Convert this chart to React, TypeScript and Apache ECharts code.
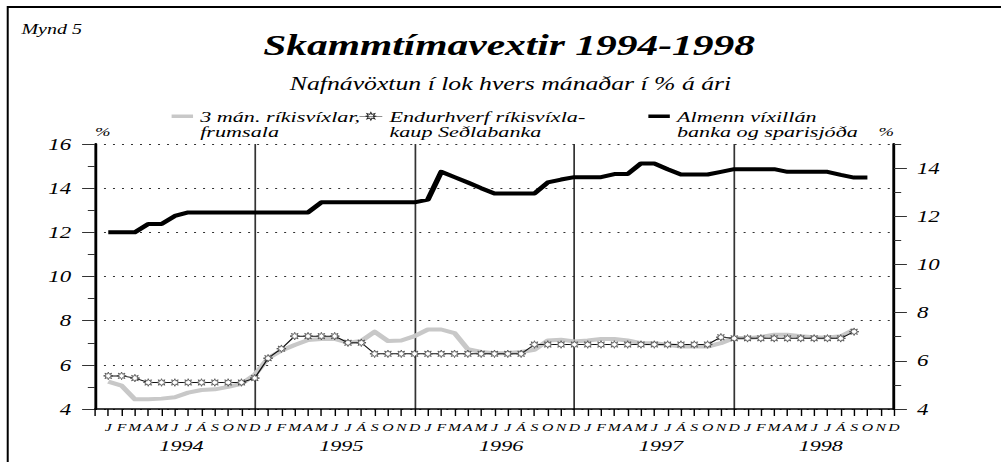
import React, { useEffect, useRef } from 'react';
import * as echarts from 'echarts';

const YEARS = ['1994', '1995', '1996', '1997', '1998'];
const MONTHS = ['J', 'F', 'M', 'A', 'M', 'J', 'J', 'Á', 'S', 'O', 'N', 'D'];

// 3 mán. ríkisvíxlar, frumsala (Jan 1994 - Sep 1998)
const TBILL = [
  5.24, 5.06, 4.44, 4.44, 4.47, 4.53, 4.74, 4.86, 4.89, 5.0, 5.14, 5.55,
  6.3, 6.65, 6.9, 7.12, 7.17, 7.17, 7.0, 7.08, 7.5, 7.08, 7.1, 7.3,
  7.6, 7.6, 7.44, 6.71, 6.58, 6.53, 6.53, 6.58, 6.68, 7.1, 7.14, 7.06,
  7.1, 7.17, 7.17, 7.1, 6.98, 6.98, 6.91, 6.83, 6.83, 6.83, 6.98, 7.21,
  7.21, 7.26, 7.36, 7.36, 7.29, 7.25, 7.24, 7.29, 7.6,
];

// Endurhverf ríkisvíxlakaup Seðlabanka (Jan 1994 - Sep 1998)
const REPO = [
  5.5, 5.5, 5.4, 5.2, 5.2, 5.2, 5.2, 5.2, 5.2, 5.2, 5.2, 5.4,
  6.3, 6.73, 7.3, 7.3, 7.3, 7.3, 7.0, 7.0, 6.5, 6.5, 6.5, 6.5,
  6.5, 6.5, 6.5, 6.5, 6.5, 6.5, 6.5, 6.5, 6.92, 6.92, 6.92, 6.92,
  6.92, 6.92, 6.92, 6.92, 6.92, 6.92, 6.92, 6.92, 6.92, 6.92, 7.25, 7.2,
  7.2, 7.2, 7.2, 7.2, 7.2, 7.2, 7.2, 7.2, 7.5,
];

// Almenn víxillán banka og sparisjóða (Jan 1994 - Oct 1998)
const LOANS = [
  12.0, 12.0, 12.0, 12.38, 12.38, 12.74, 12.9, 12.9, 12.9, 12.9, 12.9, 12.9,
  12.9, 12.9, 12.9, 12.9, 13.36, 13.36, 13.36, 13.36, 13.36, 13.36, 13.36, 13.36,
  13.48, 14.74, 14.5, 14.26, 14.0, 13.76, 13.76, 13.76, 13.76, 14.26, 14.39, 14.5,
  14.5, 14.5, 14.64, 14.64, 15.12, 15.12, 14.86, 14.62, 14.62, 14.62, 14.74, 14.86,
  14.86, 14.86, 14.86, 14.74, 14.74, 14.74, 14.74, 14.6, 14.48, 14.48,
];

const RIGHT_MAJOR = [4, 6, 8, 10, 12, 14];
const RIGHT_MINOR = [5, 7, 9, 11, 13, 15];

const NAME_TBILL = '3 mán. ríkisvíxlar,\nfrumsala';
const NAME_REPO = 'Endurhverf ríkisvíxla-\nkaup Seðlabanka';
const NAME_LOANS = 'Almenn víxillán\nbanka og sparisjóða';

const W = 700;
const H = 462;
const SX = 1001 / W;
const FONT = 'Liberation Serif';

const N = YEARS.length * 12;
const monthCats = ['start'].concat(
  Array.from({ length: N }, (_, i) => YEARS[Math.floor(i / 12)] + '-' + ((i % 12) + 1))
);
const yearCats = Array.from({ length: N }, (_, i) => 'y' + i);
const pad = (arr: number[]) => {
  const out: (number | null)[] = [null];
  for (let i = 0; i < N; i++) out.push(i < arr.length ? arr[i] : null);
  return out;
};

const starPts = (cx: number, cy: number, R: number) => {
  const pts: string[] = [];
  for (let k = 0; k < 16; k++) {
    const a = -Math.PI / 2 + (k * Math.PI) / 8;
    const r = k % 2 ? R * 0.5 : R;
    pts.push((cx + r * Math.cos(a)).toFixed(2) + ' ' + (cy + r * Math.sin(a)).toFixed(2));
  }
  return 'M' + pts.join(' L') + ' Z';
};
const starSymbol = 'path://' + starPts(10, 10, 10);
const starLegendIcon = 'path://M0 10 L40 10 ' + starPts(20, 10, 10);

const legendText = {
  fontFamily: FONT,
  fontStyle: 'italic',
  fontSize: 15.5,
  lineHeight: 15.5,
  color: '#000',
};

const legendBase = {
  orient: 'horizontal',
  padding: 0,
  top: 92.75,
  selectedMode: false,
  formatter: (name: string) => '\n' + name,
  textStyle: legendText,
};

const option = {
  animation: false,
  backgroundColor: '#fff',
  title: [
    {
      text: 'Mynd 5',
      left: 15,
      top: 22.5,
      padding: 0,
      textStyle: { fontFamily: FONT, fontStyle: 'italic', fontWeight: 'normal', fontSize: 14, color: '#000' },
    },
    {
      text: 'Skammtímavextir 1994-1998',
      left: 356,
      textAlign: 'center',
      top: 31,
      padding: 0,
      textStyle: { fontFamily: FONT, fontStyle: 'italic', fontWeight: 'bold', fontSize: 29, color: '#000' },
    },
    {
      text: 'Nafnávöxtun í lok hvers mánaðar í % á ári',
      left: 357,
      textAlign: 'center',
      top: 74.5,
      padding: 0,
      textStyle: { fontFamily: FONT, fontStyle: 'italic', fontWeight: 'normal', fontSize: 18, color: '#000' },
    },
  ],
  legend: [
    {
      ...legendBase,
      data: [NAME_TBILL],
      left: 120,
      icon: 'rect',
      itemWidth: 15,
      itemHeight: 3.5,
      itemStyle: { color: '#c8c8c8', borderWidth: 0 },
    },
    {
      ...legendBase,
      data: [NAME_REPO],
      left: 251,
      icon: starLegendIcon,
      itemWidth: 16,
      itemHeight: 9,
      itemStyle: { color: '#fff', borderColor: '#222', borderWidth: 0.7 },
    },
    {
      ...legendBase,
      data: [NAME_LOANS],
      left: 453.4,
      icon: 'rect',
      itemWidth: 15,
      itemHeight: 3.5,
      itemStyle: { color: '#000', borderWidth: 0 },
    },
  ],
  graphic: [
    { type: 'line', shape: { x1: 5, y1: 7, x2: W, y2: 7 }, style: { stroke: '#000', lineWidth: 2 } },
    { type: 'line', shape: { x1: 5.4, y1: 6, x2: 5.4, y2: H }, style: { stroke: '#000', lineWidth: 1.4 } },
  ],
  grid: { left: 66.4, right: 74.8, top: 144, bottom: 53, containLabel: false },
  xAxis: [
    {
      type: 'category',
      data: monthCats,
      boundaryGap: false,
      position: 'bottom',
      axisLine: { show: true, lineStyle: { color: '#000', width: 1.5 } },
      axisTick: { show: true, interval: 0, length: 7, inside: false, lineStyle: { color: '#000', width: 1 } },
      axisLabel: {
        interval: 0,
        margin: 13,
        fontFamily: FONT,
        fontStyle: 'italic',
        fontSize: 11,
        color: '#000',
        formatter: (_v: string, idx: number) => (idx === 0 ? '' : MONTHS[(idx - 1) % 12]),
      },
      splitLine: {
        show: true,
        interval: (idx: number) => idx > 0 && idx < N && idx % 12 === 0,
        lineStyle: { color: '#333', width: 1.2, type: 'solid' },
      },
    },
    {
      type: 'category',
      data: yearCats,
      boundaryGap: true,
      position: 'bottom',
      axisLine: { show: false },
      axisTick: { show: false },
      splitLine: { show: false },
      axisLabel: {
        interval: 0,
        margin: 29,
        fontFamily: FONT,
        fontStyle: 'italic',
        fontSize: 15.5,
        color: '#000',
        formatter: (_v: string, idx: number) => (idx % 12 === 6 ? YEARS[Math.floor(idx / 12)] : ''),
      },
    },
  ],
  yAxis: [
    {
      type: 'value',
      position: 'left',
      min: 4,
      max: 16,
      interval: 2,
      name: '%',
      nameLocation: 'end',
      nameGap: 5.5,
      nameTextStyle: { fontFamily: FONT, fontStyle: 'italic', fontSize: 13, color: '#000', align: 'left' },
      axisLine: { show: true, lineStyle: { color: '#000', width: 2 } },
      axisTick: { show: true, length: 9, inside: false, lineStyle: { color: '#333', width: 1 } },
      minorTick: { show: true, splitNumber: 2, length: 5, lineStyle: { color: '#333', width: 1 } },
      axisLabel: { margin: 16.7, fontFamily: FONT, fontStyle: 'italic', fontSize: 16, color: '#000' },
      splitLine: { show: true, lineStyle: { color: '#333', width: 1, type: [1.4, 4.9] } },
      minorSplitLine: { show: false },
    },
    {
      type: 'value',
      position: 'right',
      min: 4,
      max: 15,
      interval: 1,
      name: '%',
      nameLocation: 'end',
      nameGap: 5.5,
      nameTextStyle: { fontFamily: FONT, fontStyle: 'italic', fontSize: 13, color: '#000', align: 'right' },
      axisLine: { show: true, lineStyle: { color: '#000', width: 2 } },
      axisTick: { show: true, length: 9, inside: false, customValues: RIGHT_MAJOR, lineStyle: { color: '#333', width: 1 } },
      axisLabel: {
        margin: 16,
        fontFamily: FONT,
        fontStyle: 'italic',
        fontSize: 16,
        color: '#000',
        customValues: RIGHT_MAJOR,
        formatter: (v: number) => (RIGHT_MAJOR.indexOf(v) >= 0 ? String(v) : ''),
      },
      splitLine: { show: false },
    },
    {
      type: 'value',
      position: 'right',
      min: 4,
      max: 15,
      interval: 1,
      axisLine: { show: false },
      axisTick: { show: true, length: 5, inside: false, customValues: RIGHT_MINOR, lineStyle: { color: '#333', width: 1 } },
      axisLabel: { show: false },
      splitLine: { show: false },
    },
  ],
  series: [
    {
      name: NAME_TBILL,
      type: 'line',
      xAxisIndex: 0,
      yAxisIndex: 0,
      data: pad(TBILL),
      symbol: 'none',
      lineStyle: { color: '#c8c8c8', width: 4, join: 'round' },
      itemStyle: { color: '#c8c8c8' },
      z: 2,
    },
    {
      name: NAME_LOANS,
      type: 'line',
      xAxisIndex: 0,
      yAxisIndex: 0,
      data: pad(LOANS),
      symbol: 'none',
      lineStyle: { color: '#000', width: 4, join: 'round' },
      itemStyle: { color: '#000' },
      z: 3,
    },
    {
      name: NAME_REPO,
      type: 'line',
      xAxisIndex: 0,
      yAxisIndex: 0,
      data: pad(REPO),
      symbol: starSymbol,
      symbolSize: [6.6, 7.6],
      showAllSymbol: true,
      lineStyle: { color: '#111', width: 1 },
      itemStyle: { color: '#fff', borderColor: '#333', borderWidth: 0.6 },
      z: 4,
    },
  ],
};

export default function App() {
  const ref = useRef<HTMLDivElement>(null);
  useEffect(() => {
    if (!ref.current) return;
    const chart = echarts.init(ref.current, null, { renderer: 'svg' });
    chart.setOption(option as any);
    return () => chart.dispose();
  }, []);
  return (
    <div
      ref={ref}
      style={{
        position: 'absolute',
        left: 0,
        top: 0,
        width: W,
        height: H,
        transform: `scaleX(${SX})`,
        transformOrigin: '0 0',
      }}
    />
  );
}
